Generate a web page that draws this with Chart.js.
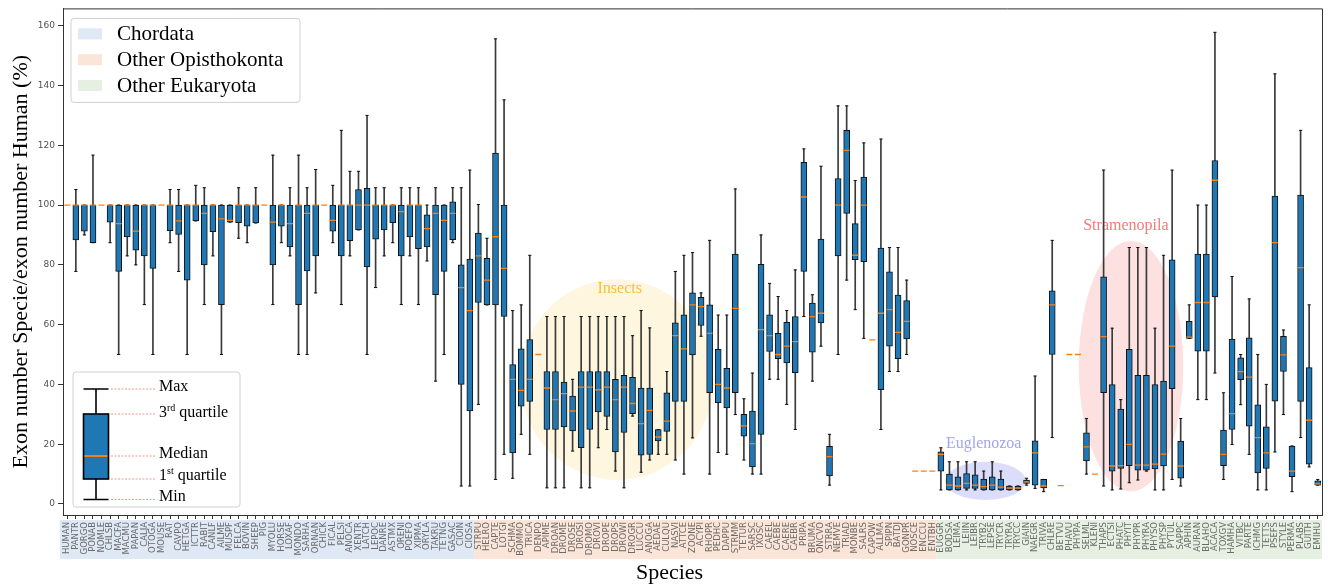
<!DOCTYPE html>
<html>
<head>
<meta charset="utf-8">
<script src="https://cdn.jsdelivr.net/npm/chart.js@4.4.1/dist/chart.umd.min.js"></script>
<style>
  html, body { margin: 0; padding: 0; background: #fff; }
  #wrap { width: 1333px; height: 588px; }
</style>
</head>
<body>
<div id="wrap"><canvas id="chart" width="1333" height="588"></canvas></div>
<script>
// species mnemonics, in plot order
const species = [
  'HUMAN','PANTR','GORGO','PONAB','NOMLE','CHLSB','MACFA','MACMU','PAPAN','CALJA',
  'OTOGA','MOUSE','RAT','CAVPO','HETGA','ICTTR','RABIT','CANLF','AILME','MUSPF',
  'FELCA','BOVIN','SHEEP','PIG','MYOLU','HORSE','LOXAF','MONDO','SARHA','ORNAN',
  'CHICK','FICAL','PELSI','ANOCA','XENTR','LATCH','LEPOC','DANRE','ASTMX','ORENI',
  'POEFO','XIPMA','ORYLA','TAKRU','TETNG','GASAC','CIOIN','CIOSA',
  'STRPU','HELRO','CAPTE','LOTGI','SCHMA','BOMMO','TRICA','DENPO','APIME','DROAN',
  'DROME','DROSE','DROSI','DROMO','DROVI','DROPE','DROPS','DROWI','DROGR','LUCCU',
  'ANOGA','AEDAE','CULQU','NASVI','ATTCE','ZOONE','ACYPI','RHOPR','PEDHC','DAPPU',
  'STRMM','TETUR','SARSC','IXOSC','CAEEL','CAEBE','CAERE','CAEBR','PRIPA','BRUMA',
  'ONCVO','STRRA','NEMVE','TRIAD','MONBE','SALRS','CAPOW','ALLMA','SPIPN','BATDJ',
  'GONPR','NOSCE','ENCCU','ENTBH',
  'EUGGR','BODSA','LEIMA','LEIIN','LEIBR','TRYB2','LEPSE','TRYCR','TRYRA','TRYCC',
  'GIAIN','NAEGR','TRIVA','CHLRE','BETVU','PHAVU','PHYPA','SELML','KLENI','THAPS',
  'ECTSI','PHATC','PHYIT','PHYPR','PHYRA','PHYSO','PHYSP','PYTUL','SAPPC','APHIN',
  'AURAN','BLAHO','ACACA','TOXGV','HAMHA','VITBC','PARTE','ICHMG','TETTS','PSEFS',
  'STYLE','PERMA','PLABS','GUITH','EMIHU'
];

const whiskerLow = [
  100, 77.8, 90, 87.4, 100, 87.4, 50, 83, 80, 66.7,
  50, 100, 87.4, 77.8, 50, 94.7, 66.7, 83, 50, 94.3,
  88.9, 87.4, 94, 100, 66.7, 87.4, 83, 50, 50, 70.6,
  100, 87.4, 66.7, 83, 91.7, 50, 72.4, 83, 87.4, 66.7,
  83, 66.7, 81.3, 41.1, 50, 87.4, 6, 6, 33.3, 66.6,
  8.2, 16.6, 8.6, 23.3, 16.6, 50, 5.4, 5.4, 5.4, 17.7,
  5.4, 5.4, 18.8, 24.9, 11, 5.4, 29.4, 10.6, 14.7, 16.6,
  16.6, 14.7, 10, 22.1, 56.1, 10, 17.2, 16.6, 29.9, 14.7,
  10, 10, 41.7, 41.7, 33.3, 24.9, 62.7, 41.1, 52.8, 6.3,
  50, 74.9, 65, 55.4, 54.9, 24.9, 44.3, 44.3, 50, 11,
  11, 11, 4.7, 4.7, 4.7, 4.7, 4.7, 4.7, 4.7, 4.7,
  4.7, 4.7, 6.3, 5.2, 4.1, 22.2, 6.1, 50, 50, 10,
  10, 6, 4.7, 5, 7.1, 8, 11, 4.7, 4.7, 8.2,
  6, 55.4, 34.9, 34.9, 43.8, 8.2, 19.9, 33.2, 16.6, 4.7,
  4.7, 17.4, 29.9, 4.1, 22.2, 12.4, 6.3
];

const quartile1 = [
  100, 88.3, 91.3, 87.4, 100, 94.3, 77.8, 89.3, 84.9, 83,
  78.8, 100, 91.4, 90.2, 74.9, 94.7, 80, 91.1, 66.7, 94.3,
  94.1, 92.9, 94, 100, 80, 92.9, 86, 66.7, 78, 83,
  100, 91.3, 83, 88.1, 91.7, 79.3, 88.6, 91.7, 94.1, 83,
  89.3, 85.4, 86, 70, 77.8, 88.4, 40, 31.1, 67.4, 66.6,
  66.6, 62.7, 17.1, 32.7, 34.3, 50, 24.9, 24.9, 25.8, 24.4,
  18.8, 24.9, 30.8, 29.3, 17.4, 23.9, 30.2, 16.3, 16.6, 21.1,
  24.3, 34.3, 34.3, 49.9, 59.7, 37.2, 33.9, 32.1, 37.2, 22.7,
  12.4, 23.3, 51, 48.6, 47.2, 43.9, 77.8, 50.8, 60.6, 9.4,
  83, 97.2, 81.7, 81.1, 54.9, 38.2, 52.8, 48.6, 55.2, 11,
  11, 11, 11, 4.7, 4.7, 5.2, 5.2, 4.7, 4.7, 4.7,
  4.7, 4.7, 6.9, 6.3, 5.4, 50, 6.1, 50, 50, 14.4,
  10, 37.2, 11, 11.9, 12.8, 11.3, 11.3, 11.7, 12.7, 38.6,
  8.6, 55.4, 51.1, 51.1, 69.3, 12.8, 24.9, 41.6, 26, 10.4,
  11.9, 34.4, 44.3, 9.1, 34.3, 13.3, 6.3
];

const medians = [
  100, 100, 100, 100, 100, 100, 93.8, 100, 91.3, 100,
  100, 100, 100, 94.7, 100, 100, 97.2, 100, 95.4, 94.9,
  100, 100, 100, 100, 94.3, 100, 93.8, 100, 97.2, 100,
  100, 94.9, 100, 100, 100, 100, 100, 100, 100, 97.8,
  100, 100, 92.1, 97.2, 94.9, 97.2, 72.4, 64.7, 83, 74.9,
  89.4, 78.8, 41.7, 38, 41.7, 50, 38.8, 34.9, 36.9, 31.1,
  39.1, 39.1, 38.2, 39.1, 34.9, 39.1, 33.6, 26.9, 31.3, 22.4,
  27.7, 56.3, 51.9, 66.6, 66, 57.1, 40, 38.8, 65.4, 26.1,
  20.2, 58.3, 56.3, 50, 52.8, 54.3, 102.7, 62.7, 63.8, 15.8,
  100, 118.3, 83.2, 100, 54.9, 63.8, 65, 57.4, 61.1, 11,
  11, 11, 16.6, 6.3, 6, 6.9, 6.3, 5.8, 6.3, 5.6,
  5.3, 5.3, 7.4, 17.1, 6, 66.6, 6.1, 50, 50, 19.1,
  10, 56, 12.7, 12.8, 19.9, 13, 13, 13.3, 16.7, 52.8,
  12.7, 55.8, 67.4, 67.4, 108.3, 16.6, 30.2, 44.3, 42.4, 22.2,
  17.1, 87.4, 49.9, 11, 79.1, 28, 6.7
];

const quartile3 = [
  100, 100, 100, 100, 100, 100, 100, 100, 100, 100,
  100, 100, 100, 100, 100, 100, 100, 100, 100, 100,
  100, 100, 100, 100, 100, 100, 100, 100, 100, 100,
  100, 100, 100, 100, 105.2, 105.6, 100, 100, 100, 100,
  100, 100, 96.7, 100, 100, 101.1, 80, 81.9, 90.6, 82.2,
  117.4, 100, 46.6, 51.9, 55, 50, 44.3, 44.3, 40.8, 36.1,
  44.3, 44.3, 44.3, 44.3, 41.7, 43, 42.4, 38.8, 38.8, 24.9,
  37.2, 60.6, 63.3, 70.6, 69.1, 66.6, 51.7, 45.4, 83.6, 30,
  31.1, 80.2, 63.3, 57.1, 60.8, 62.7, 114.3, 67.2, 88.6, 19.3,
  108.9, 125, 93.8, 109.4, 54.9, 85.6, 77.7, 69.9, 68, 11,
  11, 11, 17.4, 10, 9.1, 10.2, 9.7, 8.3, 9.1, 8.3,
  6, 6, 8, 21.1, 8.2, 71.3, 6.1, 50, 50, 23.8,
  10, 76, 39.9, 31.7, 51.7, 43, 43, 39.9, 41.1, 81.7,
  21, 61.1, 83.6, 83.6, 114.9, 24.7, 55.2, 48.9, 55.6, 33.2,
  25.8, 103, 56.1, 19.4, 103.3, 45.6, 7.7
];

const whiskerHigh = [
  100, 105.2, 100, 116.7, 100, 100, 100, 100, 100, 100,
  100, 100, 105.2, 105.2, 100, 106.6, 105.8, 100, 100, 100,
  105.8, 100, 105.8, 100, 116.7, 100, 105.8, 116.7, 105.8, 111.9,
  100, 106.6, 125, 111.3, 111.3, 130, 105.8, 105.8, 100, 105.8,
  105.8, 105.8, 100, 105.8, 100, 105.8, 105.8, 111.7, 100.2, 88.9,
  155.6, 135.2, 64.7, 66.6, 83.2, 50, 62.7, 62.7, 62.7, 41.7,
  62.7, 62.7, 62.7, 62.7, 62.7, 62.7, 56.3, 64.7, 58.9, 24.9,
  44.3, 77.8, 83.2, 84.1, 70.6, 88.2, 63.2, 63.2, 105.4, 35.2,
  43.8, 90, 73.8, 69.4, 64.7, 78.3, 118.8, 70, 113, 23.3,
  133.2, 133.2, 108.2, 120.8, 54.9, 122.1, 85.8, 85.8, 74.9, 11,
  11, 11, 18.8, 14.1, 14.1, 14.1, 14.1, 11, 14.1, 11,
  6, 6, 8.6, 42.8, 8.2, 88.2, 6.1, 50, 50, 28.6,
  10, 111.7, 58.8, 34.9, 85.8, 85.8, 85.8, 58.8, 83.2, 111.7,
  28.6, 66.6, 100, 100, 157.8, 37.2, 76.1, 50, 68.6, 50,
  40, 143.9, 58.2, 19.4, 125, 66.6, 8.2
];

const yTicks = [0, 20, 40, 60, 80, 100, 120, 140, 160];

// taxonomic groups shaded behind the tick labels
const groupNames = ['Chordata', 'Other Opisthokonta', 'Other Eukaryota'];
const groupSizes = [48, 54, 45];
const groupColors = ['#dfe8f5', '#fbe5d9', '#e5f0e2'];

// highlighted clades (x in category index, y in %)
const clades = [
  { name: 'Insects', x: 64.2, y: 41.6, rx: 11.3, ry: 33.6, labelX: 64.5, labelY: 72, fill: '#fff6df', color: '#f5c03a' },
  { name: 'Euglenozoa', x: 107.2, y: 7.7, rx: 4.7, ry: 6.4, labelX: 107, labelY: 20.2, fill: '#dcdcfb', color: '#a3a3f5' },
  { name: 'Stramenopila', x: 124.2, y: 46.1, rx: 6.1, ry: 41.9, labelX: 123.6, labelY: 93, fill: '#fde0e0', color: '#f27a7a' }
];

const degenerate = species.map((s, i) => quartile1[i] === quartile3[i] && whiskerLow[i] === whiskerHigh[i]);
const boxData = species.map((s, i) => degenerate[i] ? null : [quartile1[i], quartile3[i]]);
const whiskerData = species.map((s, i) => degenerate[i] ? null : [whiskerLow[i], whiskerHigh[i]]);
const capLow = whiskerLow.map((v, i) => degenerate[i] ? null : v);
const capHigh = whiskerHigh.map((v, i) => degenerate[i] ? null : v);

const serif = 'Liberation Serif';

function drawLegend(ctx, area) {
  const x0 = area.left + 8, y0 = area.top + 10;
  ctx.save();
  ctx.beginPath();
  ctx.roundRect(x0, y0, 229, 84, 3);
  ctx.fillStyle = 'rgba(255,255,255,0.85)';
  ctx.fill();
  ctx.strokeStyle = '#d0d0d0';
  ctx.lineWidth = 1;
  ctx.stroke();
  ctx.font = '21px "' + serif + '"';
  ctx.textBaseline = 'middle';
  groupNames.forEach((name, g) => {
    const cy = y0 + 15.5 + g * 25.8;
    ctx.fillStyle = groupColors[g];
    ctx.fillRect(x0 + 7, cy - 5.5, 24, 11);
    ctx.fillStyle = '#000';
    ctx.fillText(name, x0 + 46, cy + 1);
  });
  ctx.restore();
}

function drawBoxKey(ctx, area) {
  const x0 = area.left + 10, y0 = area.bottom - 143;
  ctx.save();
  ctx.beginPath();
  ctx.roundRect(x0, y0, 167, 135, 3);
  ctx.fillStyle = 'rgba(255,255,255,0.9)';
  ctx.fill();
  ctx.strokeStyle = '#d0d0d0';
  ctx.lineWidth = 1;
  ctx.stroke();

  const cx = x0 + 23, bl = x0 + 10.5, bw = 25;
  const yMax = y0 + 17, yQ3 = y0 + 42, yMed = y0 + 84, yQ1 = y0 + 107, yMin = y0 + 127.5;
  ctx.strokeStyle = '#000';
  ctx.lineWidth = 1.6;
  ctx.beginPath();
  ctx.moveTo(cx, yMax); ctx.lineTo(cx, yMin);
  ctx.moveTo(cx - 12.5, yMax); ctx.lineTo(cx + 12.5, yMax);
  ctx.moveTo(cx - 12.5, yMin); ctx.lineTo(cx + 12.5, yMin);
  ctx.stroke();
  ctx.fillStyle = '#1f77b4';
  ctx.fillRect(bl, yQ3, bw, yQ1 - yQ3);
  ctx.strokeRect(bl, yQ3, bw, yQ1 - yQ3);
  ctx.strokeStyle = '#ff7f0e';
  ctx.lineWidth = 2;
  ctx.beginPath();
  ctx.moveTo(bl + 1, yMed); ctx.lineTo(bl + bw - 1, yMed);
  ctx.stroke();

  ctx.strokeStyle = '#e8806f';
  ctx.lineWidth = 0.8;
  ctx.setLineDash([2, 1.5]);
  [yMax, yQ3, yMed, yQ1, yMin].forEach(y => {
    ctx.beginPath();
    ctx.moveTo(x0 + 38, y); ctx.lineTo(x0 + 82, y);
    ctx.stroke();
  });
  ctx.setLineDash([]);

  const tx = x0 + 86;
  ctx.fillStyle = '#000';
  ctx.textBaseline = 'middle';
  const big = '16px "' + serif + '"', small = '10px "' + serif + '"';
  const withSup = (base, sup, rest, y) => {
    ctx.font = big;
    ctx.fillText(base, tx, y);
    let w = ctx.measureText(base).width;
    ctx.font = small;
    ctx.fillText(sup, tx + w, y - 5);
    w += ctx.measureText(sup).width;
    ctx.font = big;
    ctx.fillText(rest, tx + w, y);
  };
  ctx.font = big;
  ctx.fillText('Max', tx, yMax - 2);
  withSup('3', 'rd', ' quartile', yQ3 - 1);
  ctx.font = big;
  ctx.fillText('Median', tx, yMed - 2);
  withSup('1', 'st', ' quartile', yQ1 - 3);
  ctx.font = big;
  ctx.fillText('Min', tx, yMin - 3);
  ctx.restore();
}

const decorations = {
  id: 'decorations',
  beforeDraw(chart) {
    const { ctx, chartArea, scales: { x } } = chart;
    ctx.save();
    ctx.fillStyle = '#fff';
    ctx.fillRect(0, 0, chart.width, chart.height);
    const step = x.getPixelForValue(1) - x.getPixelForValue(0);
    let start = 0;
    groupSizes.forEach((n, g) => {
      let x0 = x.getPixelForValue(start) - step / 2;
      const x1 = x.getPixelForValue(start + n - 1) + step / 2;
      if (g === 0) x0 -= 3;
      ctx.fillStyle = groupColors[g];
      ctx.fillRect(x0, chartArea.bottom + 5, x1 - x0, 39);
      start += n;
    });
    ctx.restore();
  },
  beforeDatasetsDraw(chart) {
    const { ctx, scales: { x, y } } = chart;
    ctx.save();
    clades.forEach(c => {
      const cx = x.getPixelForValue(c.x), cy = y.getPixelForValue(c.y);
      const rx = x.getPixelForValue(c.x + c.rx) - cx;
      const ry = cy - y.getPixelForValue(c.y + c.ry);
      ctx.beginPath();
      ctx.ellipse(cx, cy, rx, ry, 0, 0, Math.PI * 2);
      ctx.fillStyle = c.fill;
      ctx.fill();
    });
    ctx.font = '16px "' + serif + '"';
    ctx.textAlign = 'center';
    ctx.textBaseline = 'middle';
    clades.forEach(c => {
      ctx.fillStyle = c.color;
      ctx.fillText(c.name, x.getPixelForValue(c.labelX), y.getPixelForValue(c.labelY));
    });
    ctx.restore();
  },
  afterDatasetsDraw(chart) {
    const { ctx, chartArea } = chart;
    ctx.save();
    ctx.strokeStyle = '#333';
    ctx.lineWidth = 1;
    ctx.beginPath();
    ctx.moveTo(chartArea.left, chartArea.top + 0.5);
    ctx.lineTo(chartArea.right + 0.5, chartArea.top + 0.5);
    ctx.lineTo(chartArea.right + 0.5, chartArea.bottom);
    ctx.stroke();
    ctx.restore();
    drawLegend(ctx, chartArea);
    drawBoxKey(ctx, chartArea);
  },
  afterDraw(chart) {
    // x axis title sits a little left of the axes centre in the original
    const { ctx, chartArea } = chart;
    ctx.save();
    ctx.font = '22px "' + serif + '"';
    ctx.fillStyle = '#000';
    ctx.textAlign = 'center';
    ctx.textBaseline = 'middle';
    ctx.fillText('Species', (chartArea.left + chartArea.right) / 2 - 23, chart.height - 15);
    ctx.restore();
  }
};

new Chart(document.getElementById('chart'), {
  type: 'bar',
  data: {
    labels: species,
    datasets: [
      { type: 'bar', label: 'whisker', data: whiskerData, backgroundColor: '#3a3a3a',
        barThickness: 1, grouped: false, order: 4 },
      { type: 'bar', label: 'box', data: boxData, backgroundColor: '#1f77b4', borderColor: '#111',
        borderWidth: 1, borderSkipped: false, barThickness: 6, grouped: false, order: 2 },
      { type: 'line', label: 'min', data: capLow, showLine: false, pointStyle: 'line', pointRadius: 1.6,
        borderColor: '#111', pointBorderColor: '#111', pointBorderWidth: 1, order: 3 },
      { type: 'line', label: 'max', data: capHigh, showLine: false, pointStyle: 'line', pointRadius: 1.6,
        borderColor: '#111', pointBorderColor: '#111', pointBorderWidth: 1, order: 3 },
      { type: 'line', label: 'median', data: medians, showLine: false, pointStyle: 'line', pointRadius: 3,
        borderColor: '#ff7f0e', pointBorderColor: '#ff7f0e', pointBorderWidth: 1.3, order: 1 }
    ]
  },
  options: {
    responsive: false,
    animation: false,
    devicePixelRatio: 1,
    layout: { padding: { top: 7, right: 11, left: 0, bottom: 0 } },
    plugins: {
      legend: { display: false },
      tooltip: { enabled: false }
    },
    scales: {
      x: {
        type: 'category',
        offset: true,
        grid: { drawOnChartArea: false, drawTicks: true, tickLength: 4, offset: false, color: '#333' },
        border: { display: true, color: '#333', width: 1 },
        ticks: {
          autoSkip: false, minRotation: 90, maxRotation: 90, padding: 3,
          font: { family: 'DejaVu Sans', size: 8.5 }, color: '#6a6a6a'
        },
        title: { display: false, text: 'Species' },
        afterFit: s => { s.height = 73; }
      },
      y: {
        min: -3.7,
        max: 165.8,
        afterBuildTicks: s => { s.ticks = yTicks.map(v => ({ value: v })); },
        grid: { drawOnChartArea: false, drawTicks: true, tickLength: 5, color: '#333' },
        border: { display: true, color: '#333', width: 1 },
        ticks: { font: { family: 'DejaVu Sans', size: 9 }, color: '#505050', padding: 3 },
        title: {
          display: true, text: 'Exon number Specie/exon number Human (%)', color: '#000',
          font: { family: serif, size: 22 }, padding: { top: 8, bottom: 0 }
        },
        afterFit: s => { s.width = 63; }
      }
    }
  },
  plugins: [decorations]
});
</script>
</body>
</html>
